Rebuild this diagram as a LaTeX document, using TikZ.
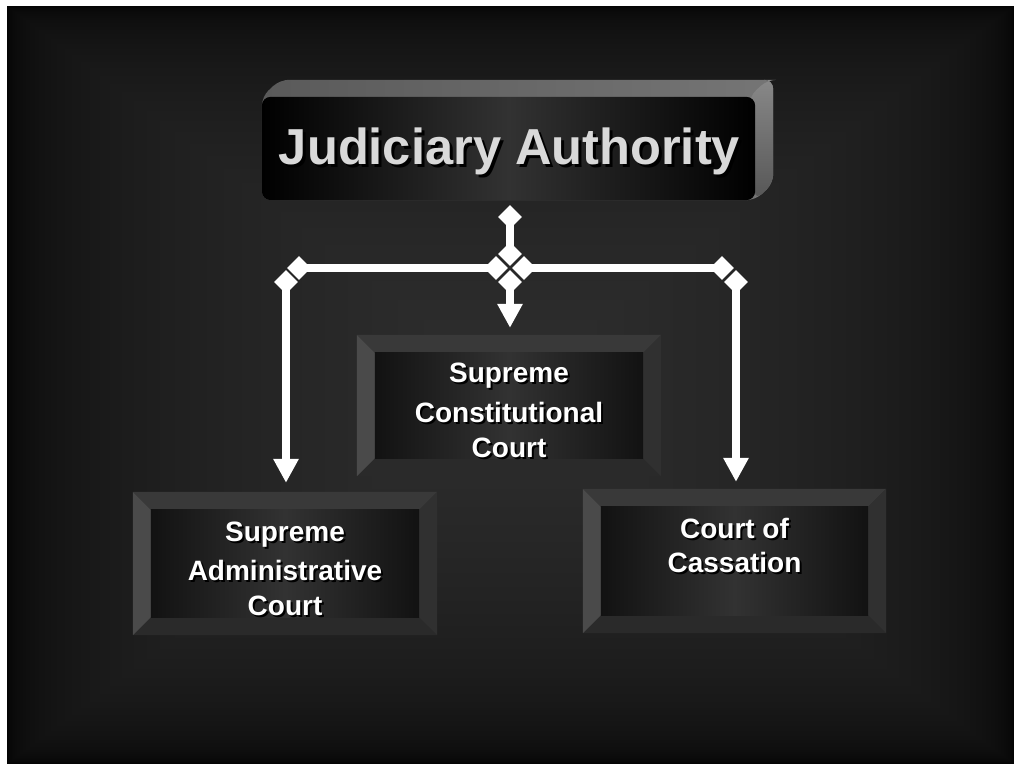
\documentclass[tikz,border=0pt]{standalone}
\usepackage{fontspec}
\setmainfont{Liberation Sans}
\usetikzlibrary{arrows.meta,shapes.geometric,calc}

\definecolor{titlegray}{HTML}{D9D9D9}
\definecolor{facemid}{HTML}{323232}
\definecolor{faceedge}{HTML}{121212}
\definecolor{bvleft}{HTML}{4A4A4A}
\definecolor{bvtop}{HTML}{393939}
\definecolor{bvright}{HTML}{303030}
\definecolor{bvbottom}{HTML}{2A2A2A}
\definecolor{extleft}{HTML}{5A5A5A}
\definecolor{extright}{HTML}{757575}
\definecolor{sidetop}{HTML}{888888}
\definecolor{sidebot}{HTML}{565656}

% text with a dark drop shadow
\newcommand\shd[2][2pt]{\rlap{\kern#1\raisebox{-#1}[0pt][0pt]{\color{black}#2}}#2}

% bevelled frame around a named rectangle node
\newcommand\drawbevel[1]{%
  \fill[bvtop] (#1.north west) -- (#1.north east) -- ($(#1.north east)+(-18,18)$) -- ($(#1.north west)+(18,18)$) -- cycle;
  \fill[bvbottom] (#1.south west) -- (#1.south east) -- ($(#1.south east)+(-18,-18)$) -- ($(#1.south west)+(18,-18)$) -- cycle;
  \fill[bvleft] (#1.north west) -- ($(#1.north west)+(18,18)$) -- ($(#1.south west)+(18,-18)$) -- (#1.south west) -- cycle;
  \fill[bvright] (#1.north east) -- ($(#1.north east)+(-18,18)$) -- ($(#1.south east)+(-18,-18)$) -- (#1.south east) -- cycle;
  \shade[left color=faceedge, right color=faceedge, middle color=facemid]
    ($(#1.north west)+(18,18)$) rectangle ($(#1.south east)+(-18,-18)$);
}

\begin{document}
\begin{tikzpicture}[x=1pt, y=-1pt,
  conn/.style={white, line width=8pt},
  arr/.style={conn, -{Triangle[width=24pt,length=24pt]}},
  tipd/.style={diamond, fill=white, inner sep=0pt, minimum size=24pt},
  box/.style={inner sep=0pt, minimum width=#1},
  boxlbl/.style={text=white, font=\fontsize{28}{34}\selectfont\bfseries, inner sep=0pt, anchor=base}]

\useasboundingbox (0,0) rectangle (1014,764);
\fill[white] (0,0) rectangle (1014,764);

% dark backdrop, lighter towards the middle
\fill[black] (7,6) rectangle (1014,764);
\foreach \i in {1,...,47} {
  \pgfmathsetmacro\t{(\i/47)^2.857}
  \pgfmathsetmacro\g{\i/255}
  \definecolor{bgc}{gray}{\g}
  \fill[bgc] (7+\t*503.5, 6+\t*379) rectangle (1014-\t*503.5, 764-\t*379);
}

% top block with raised edge
\node[box=493pt, minimum height=103pt] (ja) at (508.5,148.5) {};
\shade[left color=extleft, right color=extright, rounded corners=9pt]
  (ja.south west) -- (ja.north west) -- ++(18,-17) -- ($(ja.north east)+(18,-17)$)
  -- ($(ja.south east)+(18,-17)$) -- (ja.south east) -- cycle;
\shade[top color=sidetop, bottom color=sidebot, rounded corners=9pt]
  ($(ja.north east)+(-6,0)$) -- ($(ja.north east)+(12,-17)$) -- ($(ja.north east)+(18,-17)$)
  -- ($(ja.south east)+(18,-17)$) -- (ja.south east) -- cycle;
\shade[rounded corners=9pt, left color=black, right color=black, middle color=facemid]
  (ja.north west) rectangle (ja.south east);
\node[text=titlegray, font=\fontsize{50.6}{60}\selectfont\bfseries, inner sep=0pt, anchor=base]
  (jaText) at (509.5,164) {\shd[3pt]{Judiciary Authority}};

% lower blocks
\node[box=304pt, minimum height=141pt] (scc) at (509,405.5) {};
\node[box=304pt, minimum height=143pt] (sac) at (285,563.5) {};
\node[box=303pt, minimum height=144pt] (cc) at (734.5,561) {};
\drawbevel{scc}
\drawbevel{sac}
\drawbevel{cc}

\node[boxlbl] (scc1) at (509,382) {\shd{Supreme}};
\node[boxlbl] (scc2) at (509,422) {\shd{Constitutional}};
\node[boxlbl] (scc3) at (509,457) {\shd{Court}};
\node[boxlbl] (sac1) at (285,541) {\shd{Supreme}};
\node[boxlbl] (sac2) at (285,580) {\shd{Administrative}};
\node[boxlbl] (sac3) at (285,615) {\shd{Court}};
\node[boxlbl] (cc1) at (734.5,538) {\shd{Court of}};
\node[boxlbl] (cc2) at (734.5,572) {\shd{Cassation}};

% junction points of the connector tree
\coordinate (pTop) at (510,217);
\coordinate (pHubN) at (510,254);
\coordinate (pHubW) at (496,268);
\coordinate (pHubE) at (524,268);
\coordinate (pHubS) at (510,282);
\coordinate (pW1) at (299,268);
\coordinate (pW2) at (286,282);
\coordinate (pE1) at (722,268);
\coordinate (pE2) at (736,282);

\draw[conn] (pTop) -- (pHubN);
\draw[conn] (pHubW) -- (pW1);
\draw[conn] (pHubE) -- (pE1);
\draw[arr, shorten >=7pt] (pHubS) -- (pHubS |- scc.north);
\draw[arr, shorten >=9pt] (pW2) -- (pW2 |- sac.north);
\draw[arr, shorten >=7pt] (pE2) -- (pE2 |- cc.north);

\foreach \p in {pTop,pHubN,pHubW,pHubE,pHubS,pW1,pW2,pE1,pE2}
  \node[tipd] (d\p) at (\p) {};

\end{tikzpicture}
\end{document}
